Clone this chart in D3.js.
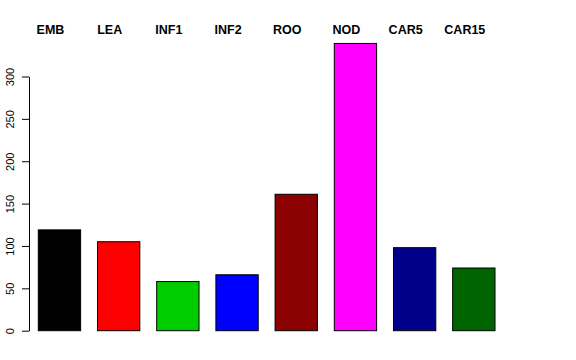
<!DOCTYPE html>
<html>
<head>
<meta charset="utf-8">
<script src="https://cdn.jsdelivr.net/npm/d3@7"></script>
<style>
    body { margin: 0; background: #fff; }
    svg { display: block; font-family: "Liberation Sans", Arial, sans-serif; }
</style>
</head>
<body>
<svg id="chart"></svg>
<script>
// Data
const categories = ['EMB', 'LEA', 'INF1', 'INF2', 'ROO', 'NOD', 'CAR5', 'CAR15'];
const counts = [119, 105, 58, 66, 161, 339, 98, 74];
const barColors = ['#000000', '#ff0000', '#00cd00', '#0000ff', '#8b0000', '#ff00ff', '#00008b', '#006400'];
const yTicks = [0, 50, 100, 150, 200, 250, 300];

const width = 576, height = 360;

const svg = d3.select('#chart')
    .attr('width', width)
    .attr('height', height);

const data = categories.map((c, i) => ({ key: c, count: counts[i], color: barColors[i] }));

// Scales
const xScale = d3.scaleBand()
    .domain(categories)
    .range([38.3, 495])
    .paddingInner(0.285)
    .paddingOuter(0);

const yScale = d3.scaleLinear()
    .domain([0, 300])
    .range([330.7, 76.5]);

// Bars
svg.append('g')
    .selectAll('rect')
    .data(data)
    .join('rect')
    .attr('x', d => xScale(d.key))
    .attr('y', d => yScale(d.count))
    .attr('width', xScale.bandwidth())
    .attr('height', d => yScale(0) - yScale(d.count))
    .attr('fill', d => d.color)
    .attr('stroke', '#000')
    .attr('stroke-width', 1);

// Y axis
const yAxis = d3.axisLeft(yScale)
    .tickValues(yTicks)
    .tickSize(7)
    .tickSizeOuter(0)
    .tickPadding(4);

const yAxisG = svg.append('g')
    .attr('transform', 'translate(29,0)')
    .call(yAxis);

yAxisG.select('.domain').attr('stroke', '#000');
yAxisG.selectAll('.tick line').attr('stroke', '#000');
yAxisG.selectAll('.tick text')
    .attr('x', 0)
    .attr('dy', 0)
    .attr('transform', 'translate(-15,0) rotate(-90)')
    .attr('text-anchor', 'middle')
    .style('font-family', '"Liberation Sans", Arial, sans-serif')
    .style('font-size', '11px')
    .attr('fill', '#000');

// Category labels along the top
svg.append('g')
    .selectAll('text')
    .data(data)
    .join('text')
    .attr('x', d => xScale(d.key) + xScale.bandwidth() / 2 - 9)
    .attr('y', 34)
    .attr('text-anchor', 'middle')
    .style('font-weight', 'bold')
    .style('font-size', '12.5px')
    .text(d => d.key);
</script>
</body>
</html>
